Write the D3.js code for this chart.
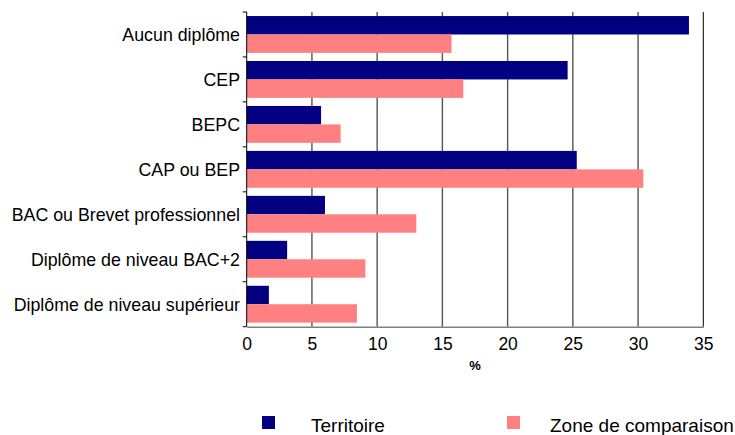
<!DOCTYPE html>
<html><head><meta charset="utf-8">
<script src="https://cdn.jsdelivr.net/npm/d3@7"></script>
<style>body{margin:0;background:#fff}svg{display:block}text{font-family:"Liberation Sans",Arial,sans-serif;fill:#000}</style>
</head><body>
<script>
const categories = ["Aucun diplôme","CEP","BEPC","CAP ou BEP","BAC ou Brevet professionnel","Diplôme de niveau BAC+2","Diplôme de niveau supérieur"];
const territoire = [33.9, 24.6, 5.7, 25.3, 6.0, 3.1, 1.7];
const zone = [15.7, 16.6, 7.2, 30.4, 13.0, 9.1, 8.45];
const seriesNames = ["Territoire","Zone de comparaison"];
const xTicks = [0,5,10,15,20,25,30,35];
const colors = ["#000080","#ff8080"];

(function(){
const W=735,H=435;
const svg=d3.select("body").append("svg").attr("width",W).attr("height",H);
const pL=246.7,pR=703.3,pT=12,pB=326.7;
const x=d3.scaleLinear().domain([0,35]).range([pL,pR]);
const y=d3.scaleBand().domain(categories).range([pT,pB]).paddingInner(0.18).paddingOuter(0.09);
const sub=d3.scaleBand().domain([0,1]).range([0,y.bandwidth()]);

// gridlines
svg.append("g").selectAll("line").data(xTicks.slice(1)).join("line")
  .attr("x1",d=>x(d)).attr("x2",d=>x(d)).attr("y1",pT).attr("y2",pB)
  .attr("stroke",d=>d===35?"#000":"#555").attr("stroke-width",d=>d===35?1:1.4);

// bars
const data=[territoire,zone];
data.forEach((vals,si)=>{
  svg.append("g").selectAll("rect").data(vals).join("rect")
    .attr("x",x(0)).attr("y",(d,i)=>y(categories[i])+sub(si))
    .attr("width",d=>x(d)-x(0)).attr("height",sub.bandwidth())
    .attr("fill",colors[si]);
});

// bottom axis
const xa=svg.append("g").attr("transform",`translate(0,${pB})`)
  .call(d3.axisBottom(x).tickValues(xTicks).tickSize(0).tickPadding(11));
xa.select(".domain").attr("stroke","#808080").attr("stroke-width",1.5);
xa.selectAll("text").attr("font-size",17.5).attr("fill","#000").style("font-family","Liberation Sans, Arial, sans-serif");

// left axis
svg.append("line").attr("x1",pL).attr("x2",pL).attr("y1",pT).attr("y2",pB).attr("stroke","#000").attr("stroke-width",1);
const step=(pB-pT)/categories.length;
svg.append("g").selectAll("line").data(d3.range(categories.length+1)).join("line")
  .attr("x1",pL-4).attr("x2",pL).attr("y1",d=>pT+d*step).attr("y2",d=>pT+d*step)
  .attr("stroke","#000");
svg.append("g").selectAll("text").data(categories).join("text")
  .attr("x",240).attr("y",d=>y(d)+y.bandwidth()/2).attr("dy","0.36em")
  .attr("text-anchor","end").attr("font-size",17.8).text(d=>d);

// x label
svg.append("text").attr("x",(pL+pR)/2).attr("y",370).attr("text-anchor","middle")
  .attr("font-size",13).attr("font-weight","bold").text("%");

// legend
const lg=[{x:262,tx:311},{x:507,tx:550}];
lg.forEach((l,i)=>{
  svg.append("rect").attr("x",l.x).attr("y",416).attr("width",13).attr("height",13).attr("fill",colors[i]);
  svg.append("text").attr("x",l.tx).attr("y",431.5).attr("font-size",19).text(seriesNames[i]);
});
})();
</script>
</body></html>
